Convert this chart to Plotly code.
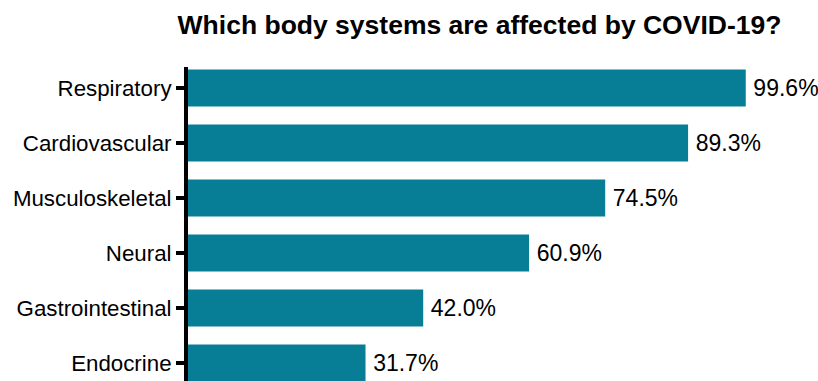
import plotly.graph_objects as go

categories = ["Respiratory", "Cardiovascular", "Musculoskeletal", "Neural", "Gastrointestinal", "Endocrine"]
values = [99.6, 89.3, 74.5, 60.9, 42.0, 31.7]
labels = [f"\u2009{v:.1f}%" for v in values]

FONT = "Arial, Liberation Sans, sans-serif"

fig = go.Figure(go.Bar(
    x=values, y=categories, orientation="h",
    marker=dict(color="#087E96", line=dict(width=0)),
    text=labels, textposition="outside", cliponaxis=False,
    constraintext="none",
    textfont=dict(family=FONT, size=23, color="black"),
    width=0.67,
))

fig.update_layout(
    width=818, height=381,
    margin=dict(l=188, r=14, t=67, b=0),
    paper_bgcolor="white", plot_bgcolor="white",
    showlegend=False,
    title=dict(text="<b>Which body systems are affected by COVID-19?</b>",
               x=479.5/818, xanchor="center", xref="container",
               y=1 - 25/381, yanchor="middle", yref="container",
               font=dict(family=FONT, size=26.5, color="black")),
    font=dict(family=FONT, color="black"),
)
fig.update_xaxes(range=[0, 110], visible=False, showgrid=False, zeroline=False)
fig.update_yaxes(
    type="category", categoryorder="array", categoryarray=categories,
    range=[5.327, -0.382],
    showline=True, linewidth=4, linecolor="black",
    ticks="outside", ticklen=8, tickwidth=4, tickcolor="black",
    tickfont=dict(family=FONT, size=22.3, color="black"),
    showgrid=False, zeroline=False,
)

fig.write_html("out.html")
